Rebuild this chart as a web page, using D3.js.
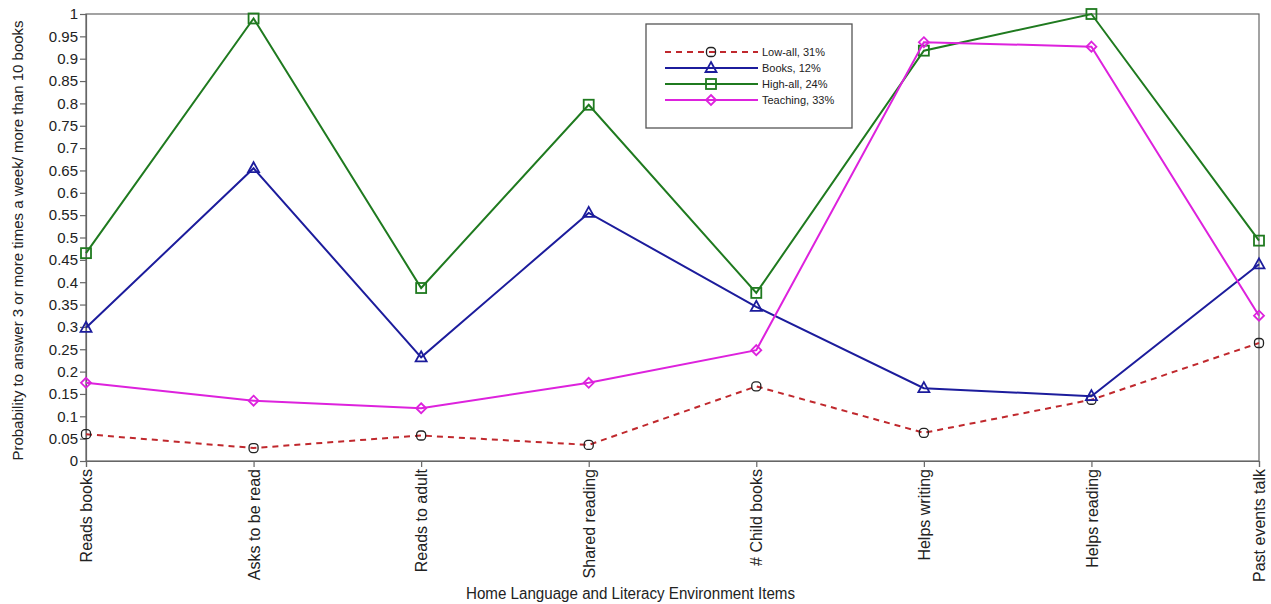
<!DOCTYPE html>
<html lang="en">
<head>
<meta charset="UTF-8">
<title>Home Language and Literacy Environment</title>
<script src="https://d3js.org/d3.v7.min.js"></script>
<style>
  body { margin: 0; background: #fff; }
  svg text { font-family: Arial, "Liberation Sans", sans-serif; fill: #222; }
</style>
</head>
<body>
<svg width="1271" height="604"></svg>
<script>
// categories on the x axis
var items = ["Reads books", "Asks to be read", "Reads to adult", "Shared reading",
             "# Child books", "Helps writing", "Helps reading", "Past events talk"];

// class probabilities
var lowAll   = [0.060, 0.029, 0.057, 0.036, 0.167, 0.063, 0.137, 0.264];
var books    = [0.298, 0.655, 0.232, 0.555, 0.345, 0.163, 0.145, 0.440];
var highAll  = [0.465, 0.990, 0.387, 0.797, 0.376, 0.918, 1.000, 0.493];
var teaching = [0.175, 0.135, 0.118, 0.175, 0.248, 0.937, 0.927, 0.325];

var seriesNames = ["Low-all, 31%", "Books, 12%", "High-all, 24%", "Teaching, 33%"];
var yTicks = d3.range(0, 1.0001, 0.05);

var series = [
  { name: seriesNames[0], values: lowAll,   color: "#c0282d", dash: "6,5", marker: "circle",   mcolor: "#222" },
  { name: seriesNames[1], values: books,    color: "#1c1c9c", dash: null,  marker: "triangle", mcolor: "#1c1c9c" },
  { name: seriesNames[2], values: highAll,  color: "#1f7a1f", dash: null,  marker: "square",   mcolor: "#1f7a1f" },
  { name: seriesNames[3], values: teaching, color: "#dd22dd", dash: null,  marker: "diamond",  mcolor: "#dd22dd" }
];

var svg = d3.select("svg"),
    margin = { top: 14, right: 12, bottom: 143, left: 86 },
    width = +svg.attr("width") - margin.left - margin.right,
    height = +svg.attr("height") - margin.top - margin.bottom;

var x = d3.scalePoint().domain(items).range([0, width]);
var y = d3.scaleLinear().domain([0, 1]).range([height, 0]);

var g = svg.append("g").attr("transform", "translate(" + margin.left + "," + margin.top + ")");

// frame
g.append("rect").attr("width", width).attr("height", height)
  .attr("fill", "none").attr("stroke", "#666").attr("stroke-width", 1.2);

// y axis
var yAxis = g.append("g")
  .call(d3.axisLeft(y).tickValues(yTicks).tickSize(6).tickPadding(2)
    .tickFormat(function(d) { return d3.format("~g")(+d.toFixed(2)); }));
yAxis.selectAll("text").style("font-size", "15px");

// x axis
var xAxis = g.append("g").attr("transform", "translate(0," + height + ")")
  .call(d3.axisBottom(x).tickSize(6).tickPadding(3));
xAxis.selectAll("text")
  .style("font-size", "16px")
  .style("text-anchor", "end")
  .attr("transform", "rotate(-90)")
  .attr("x", -8).attr("y", 0).attr("dy", "0.35em");

[yAxis, xAxis].forEach(function(a) {
  a.select(".domain").attr("stroke", "#666").attr("stroke-width", 1.2);
  a.selectAll(".tick line").attr("stroke", "#666").attr("stroke-width", 1.2);
});

// axis titles
svg.append("text")
  .attr("transform", "translate(23," + (margin.top + height / 2 + 3) + ") rotate(-90)")
  .attr("text-anchor", "middle").style("font-size", "15px")
  .text("Probability to answer 3 or more times a week/ more than 10 books");

svg.append("text")
  .attr("x", 466).attr("y", 599)
  .attr("textLength", 329).attr("lengthAdjust", "spacingAndGlyphs")
  .style("font-size", "16px")
  .text("Home Language and Literacy Environment Items");

function drawMarker(sel, type, color) {
  if (type === "circle") {
    sel.append("rect").attr("x", -4.5).attr("y", -4.5).attr("width", 9).attr("height", 9)
      .attr("rx", 3.5).attr("fill", "none").attr("stroke", color).attr("stroke-width", 1.3);
  } else if (type === "square") {
    sel.append("rect").attr("x", -5).attr("y", -5).attr("width", 10).attr("height", 10)
      .attr("fill", "none").attr("stroke", color).attr("stroke-width", 1.8);
  } else if (type === "triangle") {
    sel.append("path").attr("d", "M0,-6L5.5,4L-5.5,4Z")
      .attr("fill", "none").attr("stroke", color).attr("stroke-width", 1.8);
  } else {
    sel.append("path").attr("d", "M0,-5L5,0L0,5L-5,0Z")
      .attr("fill", "none").attr("stroke", color).attr("stroke-width", 1.8);
  }
}

var line = d3.line()
  .x(function(d, i) { return x(items[i]); })
  .y(function(d) { return y(d); });

series.forEach(function(s) {
  g.append("path").datum(s.values)
    .attr("fill", "none").attr("stroke", s.color).attr("stroke-width", 2)
    .attr("stroke-dasharray", s.dash)
    .attr("d", line);
  s.values.forEach(function(v, i) {
    var m = g.append("g").attr("transform", "translate(" + x(items[i]) + "," + y(v) + ")");
    drawMarker(m, s.marker, s.mcolor);
  });
});

// legend
var lg = svg.append("g").attr("transform", "translate(646,24)");
lg.append("rect").attr("width", 206).attr("height", 104)
  .attr("fill", "#fff").attr("stroke", "#555").attr("stroke-width", 1.3);
series.forEach(function(s, i) {
  var row = lg.append("g").attr("transform", "translate(0," + (28 + i * 16) + ")");
  row.append("line").attr("x1", 19).attr("x2", 112)
    .attr("stroke", s.color).attr("stroke-width", 2).attr("stroke-dasharray", s.dash);
  var m = row.append("g").attr("transform", "translate(65,0)");
  drawMarker(m, s.marker, s.mcolor);
  row.append("text").attr("x", 116).attr("dy", "0.35em")
    .style("font-size", "11px").text(s.name);
});
</script>
</body>
</html>
